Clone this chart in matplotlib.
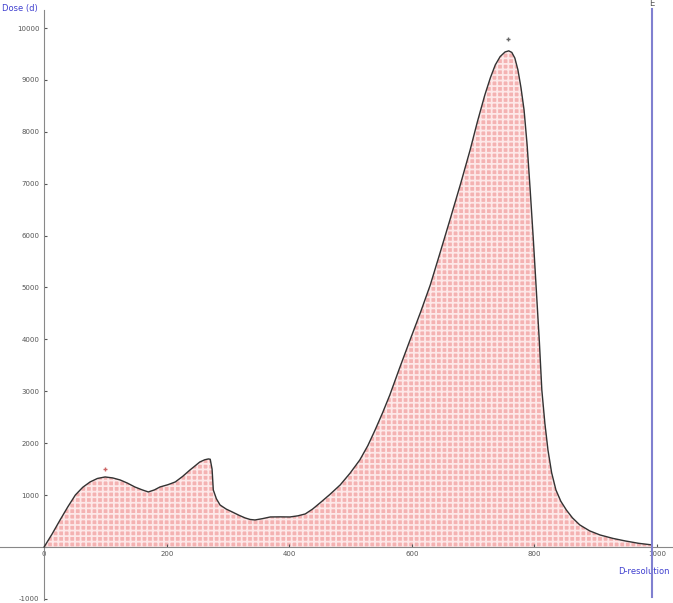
import numpy as np
from matplotlib import pyplot as plt

# curve
x_vals = [0, 13, 26, 39, 51, 63, 75, 87, 99.5, 112, 124, 136, 148, 160, 170, 180, 189,
          202, 214, 226, 238, 247, 254, 262, 268, 271, 274, 276, 281, 287,
          297, 307, 318, 328, 336, 344, 356, 369, 385, 401, 414, 426, 438, 450, 466, 483,
          499, 515, 528, 540, 552, 564, 580, 597, 614, 630, 646, 662, 679, 695,
          707, 719, 728, 736, 744, 752, 758, 763, 768, 773, 778, 783, 788, 793, 798, 803,
          808, 812, 817, 822, 828, 835, 843, 852, 862, 874, 890, 907, 928, 948, 970, 992]
y_vals = [0, 250, 520, 780, 1002, 1150, 1253, 1320, 1349, 1330, 1291, 1230, 1156, 1100,
          1060, 1100, 1156, 1200, 1253, 1360, 1484, 1570, 1638, 1680, 1696, 1690, 1500,
          1098, 930, 809, 730, 674, 610, 559, 530, 520, 545, 578, 580, 578, 600, 636,
          730, 848, 1010, 1195, 1420, 1676, 1950, 2255, 2580, 2929, 3450, 3989, 4520,
          5049, 5670, 6301, 6980, 7650, 8200, 8710, 9040, 9288, 9450, 9539, 9560, 9530,
          9420, 9192, 8850, 8421, 7750, 6880, 5950, 4952, 3950, 3025, 2380, 1869, 1430,
          1098, 880, 713, 560, 424, 310, 231, 165, 116, 70, 39]
x_ticks = [0, 200, 400, 600, 800, 1000]
y_ticks = [-1000, 0, 1000, 2000, 3000, 4000, 5000, 6000, 7000, 8000, 9000, 10000]
x_right = 992

plt.rcParams['hatch.linewidth'] = 1.3

fig = plt.figure(figsize=(6.73, 6.03), dpi=100)
ax = fig.add_axes([0, 0, 1, 1])
ax.set_xlim(-72, 1026)
ax.set_ylim(-1080, 10540)

# filled area with grid hatch
ax.fill_between(x_vals, 0, y_vals, facecolor='#f4b2b2', edgecolor='#fde8e8',
                hatch='+++', linewidth=0, zorder=1)
ax.plot(x_vals, y_vals, color='#333333', lw=1.0, zorder=3)

# axes through origin
for s in ['top', 'right']:
    ax.spines[s].set_visible(False)
ax.spines['left'].set_position(('data', 0))
ax.spines['bottom'].set_position(('data', 0))
ax.spines['left'].set_color('#888888')
ax.spines['bottom'].set_color('#888888')
ax.spines['left'].set_bounds(-1030, 10350)
ax.spines['bottom'].set_bounds(-72, 1026)

ax.set_xticks(x_ticks)
ax.set_yticks(y_ticks)
ax.set_xticklabels([str(v) for v in x_ticks])
ax.set_yticklabels([str(v) if v != 0 else '' for v in y_ticks])
ax.tick_params(axis='both', labelsize=5, colors='#555555', length=2, direction='in')
ax.tick_params(axis='x', pad=3)

# vertical boundary line
ax.axvline(x_right, ymin=0.01, ymax=0.985, color='#8080d0', lw=1.5, zorder=4)
ax.text(x_right, 10380, 'E', fontsize=6, color='#555555', ha='center', va='bottom')

# axis labels
ax.text(-68, 10280, 'Dose (d)', fontsize=6, color='#4040d0', ha='left', va='bottom')
ax.text(1020, -380, 'D-resolution', fontsize=6, color='#4040d0', ha='right', va='top')

# small markers
ax.plot([99.5], [1500], marker='+', color='#cc6666', ms=3, zorder=5)
ax.plot([757], [9780], marker='+', color='#666666', ms=3, zorder=5)

plt.savefig('out.png', dpi=100)
